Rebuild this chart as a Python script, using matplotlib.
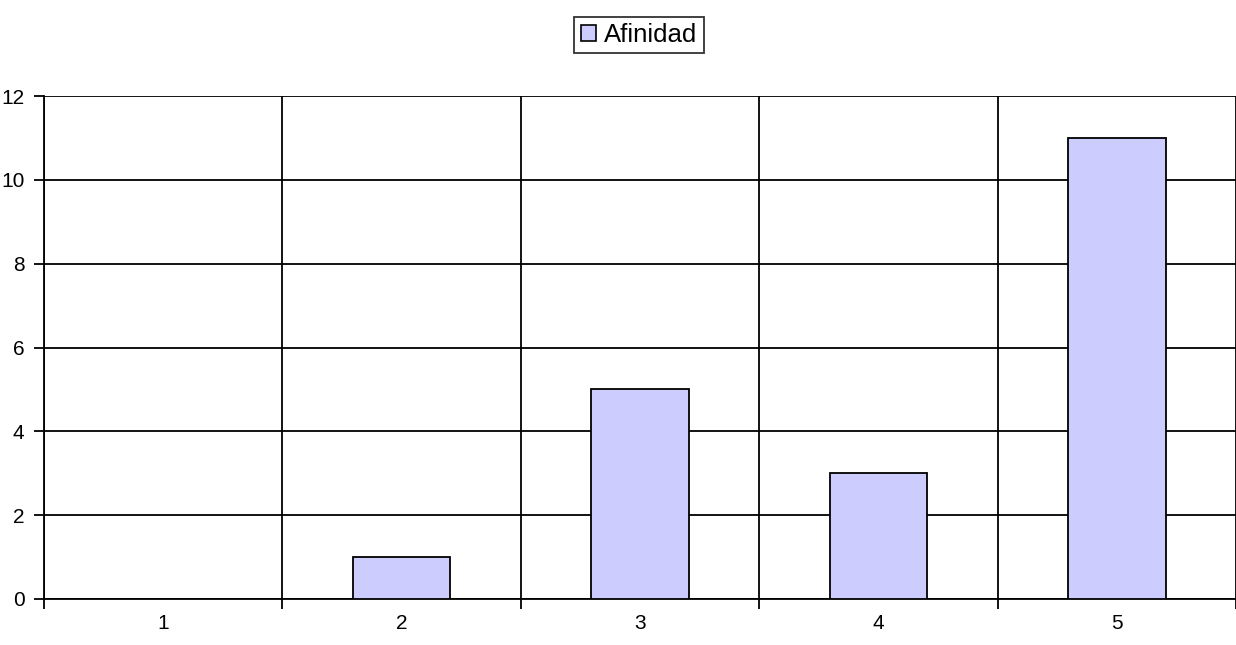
import numpy as np
import matplotlib.pyplot as plt
from matplotlib.patches import Patch

plt.rcParams['font.family'] = ['Liberation Sans', 'DejaVu Sans']

categories = ["1", "2", "3", "4", "5"]
afinidad = [0, 1, 5, 3, 11]
yticks = [0, 2, 4, 6, 8, 10, 12]

barColor = "#ccccff"

fig = plt.figure(figsize=(12.36, 6.45), dpi=100)
ax = fig.add_axes([44 / 1236, 46 / 645, 1 - 44 / 1236, (599 - 96) / 645])

x = np.arange(1, len(categories) + 1)
ax.bar(x, afinidad, width=0.41, color=barColor, edgecolor="black", linewidth=1.3, zorder=3)

ax.set_xlim(0.5, len(categories) + 0.5)
ax.set_ylim(0, 12)
ax.set_yticks(yticks)
ax.set_xticks(x)
ax.set_xticklabels(categories)
ax.set_xticks(np.arange(0.5, len(categories) + 1, 1.0), minor=True)

# grid: horizontal at y ticks, vertical at category boundaries
ax.grid(True, axis="y", which="major", color="black", linewidth=1.3, zorder=1)
ax.grid(True, axis="x", which="minor", color="black", linewidth=1.3, zorder=1)
ax.grid(False, axis="x", which="major")

ax.tick_params(axis="x", which="major", length=0, pad=11, labelsize=15)
ax.tick_params(axis="x", which="minor", length=7, width=1.3, direction="out")
ax.tick_params(axis="y", length=7, width=1.3, direction="out", labelsize=15, pad=7)

for side in ["top", "right"]:
    ax.spines[side].set_visible(False)
for side in ["left", "bottom"]:
    ax.spines[side].set_linewidth(1.3)

handle = Patch(facecolor=barColor, edgecolor="black", linewidth=1.2, label="Afinidad")
leg = fig.legend(handles=[handle], loc="center", bbox_to_anchor=(639 / 1236, 1 - 35 / 645),
                 fontsize=18.5, frameon=True, fancybox=False, handlelength=0.6, handleheight=0.6,
                 handletextpad=0.3, borderpad=0.25, borderaxespad=0)
leg.get_frame().set_edgecolor("black")
leg.get_frame().set_linewidth(1.3)

fig.savefig("out.png", dpi=100)
